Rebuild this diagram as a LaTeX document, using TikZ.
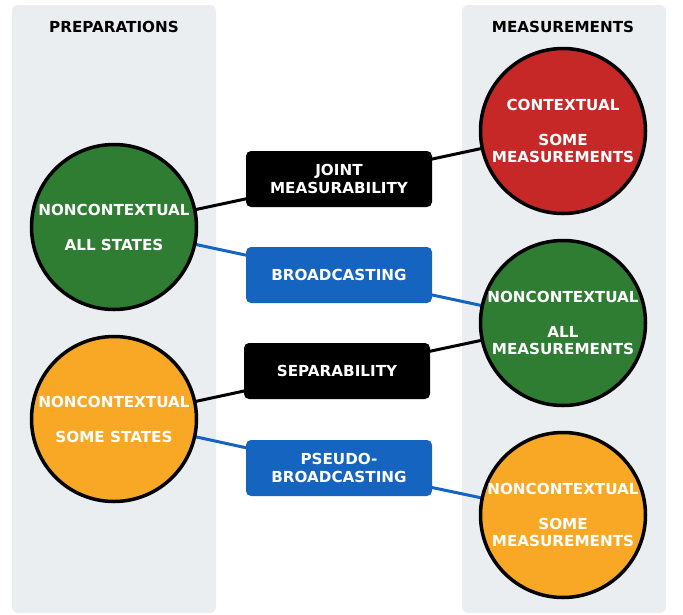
\documentclass[tikz,border=0pt]{standalone}
\usepackage{fontspec}
\setmainfont{DejaVu Sans}
\usepackage{tikz}
\usetikzlibrary{calc}
\definecolor{panelgray}{HTML}{EBEEF1}
\definecolor{ncgreen}{HTML}{2E7D32}
\definecolor{ncorange}{HTML}{F9A825}
\definecolor{ctxred}{HTML}{C62828}
\definecolor{linkblue}{HTML}{1565C0}
\pgfdeclarelayer{panels}
\pgfdeclarelayer{links}
\pgfsetlayers{panels,links,main}

\begin{document}
\begin{tikzpicture}[x=1pt, y=-1pt,
	txt/.style={font=\bfseries\fontsize{15.2}{17.5}\selectfont, align=center},
	region/.style={circle, draw=black, line width=3.5pt, minimum size=165pt,
		inner sep=0pt, text=white, txt},
	relation/.style={rounded corners=5pt, minimum width=186pt, minimum height=56pt,
		inner sep=0pt, text=white, txt},
	link/.style={line width=3pt}]

% parameters %{{{2

	\def\leftx{114}
	\def\rightx{563}

% frame %{{{2

	\useasboundingbox (0,0) rectangle (683,614);

% panels %{{{2

	\begin{pgfonlayer}{panels}
		\fill[panelgray, rounded corners=6pt] (12,5) rectangle (216,613);
		\fill[panelgray, rounded corners=6pt] (462,5) rectangle (666,613);
	\end{pgfonlayer}

	\node[txt] (prephead) at (\leftx,27) {PREPARATIONS};
	\node[txt] (meashead) at (\rightx,27) {MEASUREMENTS};

% regions %{{{2

	\node[region, fill=ncgreen] (prepA) at (\leftx,227) {NONCONTEXTUAL\\[17.5pt]ALL STATES};
	\node[region, fill=ncorange] (prepB) at (\leftx,419) {NONCONTEXTUAL\\[17.5pt]SOME STATES};

	\node[region, fill=ctxred] (measA) at (\rightx,131) {CONTEXTUAL\\[17.5pt]SOME\\MEASUREMENTS};
	\node[region, fill=ncgreen] (measB) at (\rightx,323) {NONCONTEXTUAL\\[17.5pt]ALL\\MEASUREMENTS};
	\node[region, fill=ncorange] (measC) at (\rightx,515) {NONCONTEXTUAL\\[17.5pt]SOME\\MEASUREMENTS};

% relations %{{{2

	\node[relation, fill=black] (joint) at (339,179) {JOINT\\MEASURABILITY};
	\node[relation, fill=linkblue] (broad) at (339,275) {BROADCASTING};
	\node[relation, fill=black] (separ) at (337,371) {SEPARABILITY};
	\node[relation, fill=linkblue] (pseudo) at (339,468) {PSEUDO-\\BROADCASTING};

% links %{{{2

	\begin{pgfonlayer}{links}
		\draw[link] (prepA.center) -- (joint.center) -- (measA.center);
		\draw[link, linkblue] (prepA.center) -- (broad.center) -- (measB.center);
		\draw[link] (prepB.center) -- (separ.center) -- (measB.center);
		\draw[link, linkblue] (prepB.center) -- (pseudo.center) -- (measC.center);
	\end{pgfonlayer}

% closing %{{{2

\end{tikzpicture}
\end{document}
